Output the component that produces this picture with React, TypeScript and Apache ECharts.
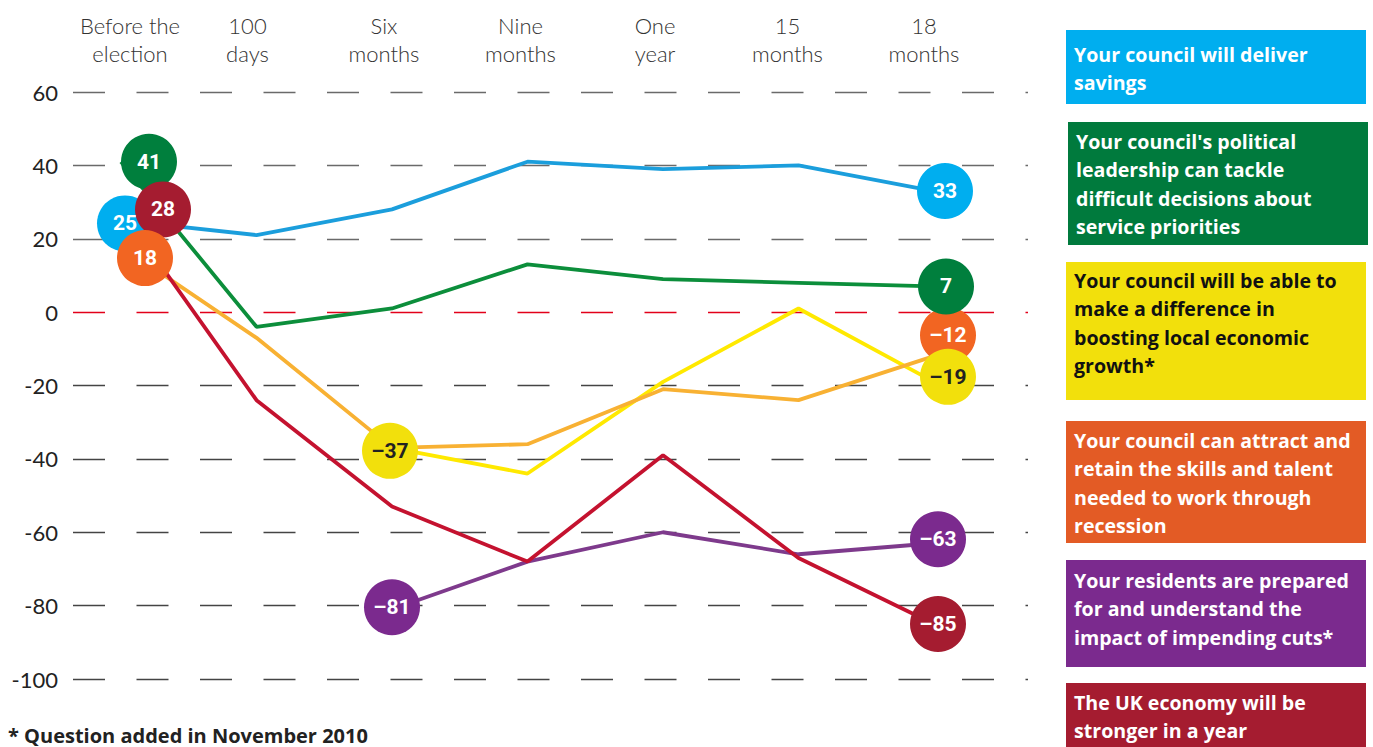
import React, { useEffect, useRef } from 'react';
import * as echarts from 'echarts';

// ---------- data ----------
const categories = ['Before the\nelection', '100\ndays', 'Six\nmonths', 'Nine\nmonths', 'One\nyear', '15\nmonths', '18\nmonths'];
const yMin = -100;
const yMax = 60;
const yStep = 20;

const savings = [25, 21, 28, 41, 39, 40, 33];
const leadership = [41, -4, 1, 13, 9, 8, 7];
const growth = [null, null, -37, -44, -19, 1, -19];
const skills = [18, -7, -37, -36, -21, -24, -12];
const residents = [null, null, -81, -68, -60, -66, -63];
const economy = [28, -24, -53, -68, -39, -67, -85];

const seriesLabels = [
  'Your council will deliver\nsavings',
  "Your council's political\nleadership can tackle\ndifficult decisions about\nservice priorities",
  'Your council will be able to\nmake a difference in\nboosting local economic\ngrowth*',
  'Your council can attract and\nretain the skills and talent\nneeded to work through\nrecession',
  'Your residents are prepared\nfor and understand the\nimpact of impending cuts*',
  'The UK economy will be\nstronger in a year',
];
const footnote = '* Question added in November 2010';

// ---------- styles / layout ----------
const allSeries = [savings, leadership, growth, skills, residents, economy];
const lineColors = ['#1B9EDC', '#0C8E3B', '#FFE900', '#F8B133', '#7E3A8C', '#C4122F'];
const circleColors = ['#00AEEF', '#007F3D', '#F2E00C', '#F26522', '#7B2A8E', '#A51C30'];
const circleTextColors = ['#fff', '#fff', '#222', '#fff', '#fff', '#fff'];
const boxColors = ['#00AEEF', '#007A3D', '#F2E00C', '#E35B25', '#7B2A8E', '#A51C30'];
const boxTextColors = ['#fff', '#fff', '#111', '#fff', '#fff', '#fff'];
// pixel nudges of the value circles (start, end)
const startOffsets = [[4, 3], [28, 0], [-2, 3], [24, 12], [0, -2], [42, 0]];
const endOffsets = [[11, 0], [12, 0], [14, -5], [14, -21], [4, -4], [4, 0]];
const boxLefts = [1066, 1068, 1066, 1066, 1066, 1066];
const boxTops = [30, 122, 262, 421, 560, 683];
const boxHeights = [74, 123, 138, 122, 107, 70];
const textTops = [40, 127, 266, 426, 566, 688];
// horizontal nudge of the category labels
const labelShifts = [9, -9, -8, -7, -8, -11, -10];
// circle draw order (later on top)
const startOrder = [1, 0, 5, 3, 2, 4];
const endOrder = [0, 3, 1, 2, 4, 5];

const fmt = (v: number) => (v < 0 ? '\u2013' + Math.abs(v) : String(v));
const FONT = '"Open Sans"';

export default function App() {
  const ref = useRef<HTMLDivElement>(null);
  useEffect(() => {
    document.body.style.margin = '0';
    const chart = echarts.init(ref.current!, null, { renderer: 'svg' });

    const lineSeries = allSeries.map((d, i) => ({
      type: 'line',
      xAxisIndex: 1,
      yAxisIndex: 1,
      data: d,
      showSymbol: false,
      connectNulls: false,
      lineStyle: { color: lineColors[i], width: 3.8 },
      itemStyle: { color: lineColors[i] },
      z: 2,
      silent: true,
    }));

    const circleData: any[] = [];
    startOrder.forEach((i) => {
      const d = allSeries[i];
      const idx = d.findIndex((v) => v !== null);
      circleData.push({
        value: [idx, d[idx]],
        symbolOffset: startOffsets[i],
        itemStyle: { color: circleColors[i], opacity: 1 },
        label: { color: circleTextColors[i] },
      });
    });
    endOrder.forEach((i) => {
      const d = allSeries[i];
      const idx = d.length - 1;
      circleData.push({
        value: [idx, d[idx]],
        symbolOffset: endOffsets[i],
        itemStyle: { color: circleColors[i], opacity: 1 },
        label: { color: circleTextColors[i] },
      });
    });

    const splitColors: string[] = [];
    for (let v = yMin; v <= yMax; v += yStep) splitColors.push(v === 0 ? '#E2001A' : v > 0 ? '#6a6a6a' : '#444');

    const graphics: any[] = [];
    seriesLabels.forEach((t, i) => {
      graphics.push({
        type: 'rect',
        shape: { x: boxLefts[i], y: boxTops[i], width: 300, height: boxHeights[i] },
        style: { fill: boxColors[i] },
        silent: true,
      });
      graphics.push({
        type: 'text',
        x: boxLefts[i] + 8,
        y: textTops[i],
        style: {
          text: t,
          fill: boxTextColors[i],
          font: 'bold 19.6px ' + FONT,
          lineHeight: 28.5,
          verticalAlign: 'top',
        },
        silent: true,
      });
    });
    graphics.push({
      type: 'text',
      x: 8,
      y: 725,
      style: { text: footnote, fill: '#222', font: 'bold 20px ' + FONT, verticalAlign: 'top' },
      silent: true,
    });

    chart.setOption({
      animation: false,
      backgroundColor: '#fff',
      grid: [
        { left: 73, right: 345, top: 92, bottom: 68 },
        { left: 121, right: 439, top: 92, bottom: 68 },
      ],
      xAxis: [
        { type: 'value', gridIndex: 0, show: false, min: 0, max: 1 },
        {
          type: 'category',
          gridIndex: 1,
          position: 'top',
          boundaryGap: false,
          data: categories.map((c, i) => ({
            value: c,
            textStyle: {
              padding: labelShifts[i] > 0 ? [0, 0, 0, labelShifts[i] * 2] : [0, -labelShifts[i] * 2, 0, 0],
            },
          })),
          axisLine: { show: false },
          axisTick: { show: false },
          splitLine: { show: false },
          axisLabel: {
            color: '#333',
            fontFamily: 'Lato',
            fontWeight: 300,
            fontSize: 22,
            lineHeight: 28,
            margin: 25,
            interval: 0,
          },
        },
      ],
      yAxis: [
        {
          type: 'value',
          gridIndex: 0,
          min: yMin,
          max: yMax,
          interval: yStep,
          axisLine: { show: false },
          axisTick: { show: false },
          axisLabel: {
            color: '#222',
            fontFamily: 'Lato',
            fontSize: 22,
            margin: 15,
            formatter: (v: number) => String(v),
          },
          splitLine: {
            show: true,
            lineStyle: { color: splitColors, width: 1.4, type: [32, 31.5] },
          },
        },
        { type: 'value', gridIndex: 1, min: yMin, max: yMax, interval: yStep, show: false, splitLine: { show: false } },
      ],
      series: [
        ...lineSeries,
        {
          type: 'scatter',
          xAxisIndex: 1,
          yAxisIndex: 1,
          symbol: 'circle',
          symbolSize: 56,
          z: 5,
          silent: true,
          data: circleData,
          label: {
            show: true,
            position: 'inside',
            fontFamily: 'Roboto',
            fontWeight: 'bold',
            fontSize: 21,
            formatter: (p: any) => fmt(p.value[1]),
          },
        },
      ],
      graphic: graphics,
    });
    return () => chart.dispose();
  }, []);
  return <div ref={ref} style={{ position: 'fixed', left: 0, top: 0, width: 1373, height: 747 }} />;
}
